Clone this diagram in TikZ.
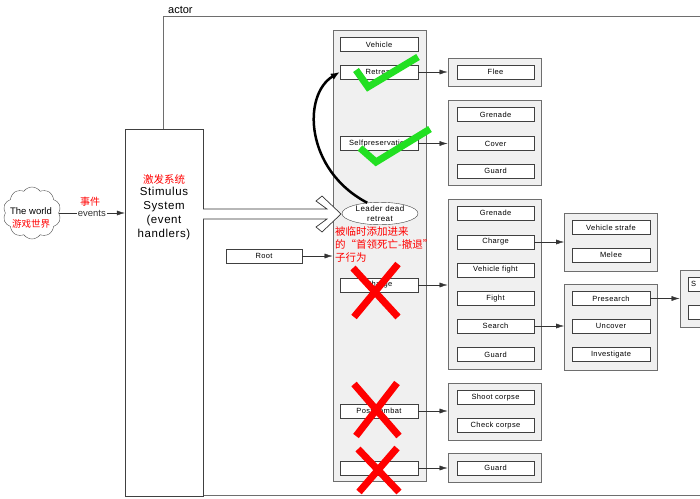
\documentclass[tikz,border=0pt]{standalone}
\usepackage{fontspec}
\setmainfont{Liberation Sans}
\newfontfamily\boxfont[LetterSpace=5]{Liberation Sans}
\newfontfamily\cjk{Noto Sans CJK SC}
\usetikzlibrary{arrows.meta,shapes.geometric,shapes.symbols}
\definecolor{panel}{HTML}{F0F0F0}
\definecolor{edge}{HTML}{6E6E6E}
\definecolor{tick}{HTML}{22E022}

\begin{document}
\begin{tikzpicture}[x=1pt, y=-1pt,
  leaf/.style={draw=black!75, fill=white, minimum width=78pt, minimum height=14pt, inner sep=0pt, font=\boxfont\fontsize{7.5}{9}\selectfont},
  grp/.style={draw=edge, fill=panel, line width=1pt, minimum width=93pt, inner sep=0pt},
  arr/.style={-{Latex[length=8pt,width=5pt]}, black!80},
  cn/.style={font=\cjk\fontsize{10.5}{13}\selectfont, text=red}]
\useasboundingbox (0,0) rectangle (700,498);
\clip (0,0) rectangle (700,498);

% actor frame
\draw[edge] (163,16) rectangle (720,495);
\node[anchor=base west, inner sep=0pt, font=\fontsize{11}{12}\selectfont] (actorlbl) at (168,13) {actor};

% stimulus system
\node[draw=black!75, fill=white, minimum width=78pt, minimum height=367pt] (stim) at (164,312.5) {};
\node[align=center, inner sep=0pt, font=\boxfont\fontsize{11.5}{14}\selectfont] (stimtxt) at (164,207)
  {{\cjk\color{red}\fontsize{10.5}{12}\selectfont 激发系统}\\[-2pt]Stimulus\\System\\(event\\handlers)};

% the world
\node[cloud, cloud puffs=10, cloud puff arc=110, aspect=1.2, draw=black!70, fill=white, minimum width=58pt, minimum height=52pt, inner sep=0pt] (world) at (32,213) {};
\node[align=center, inner sep=0pt, font=\fontsize{9.5}{13}\selectfont] (worldtxt) at (31,218)
  {The world\\{\cjk\color{red}游戏世界}};
\draw[arr] (world.east) -- node[fill=white, inner sep=1pt, font=\fontsize{9.5}{10}\selectfont] (evt) {events} (world.east -| stim.west);
\node[cn, font=\cjk\fontsize{10}{10}\selectfont] (evtcn) at (90,202) {事件};

% behaviour column
\node[grp, minimum height=451pt] (col) at (379.5,255.5) {};
\foreach \n/\t/\y in {veh/Vehicle/44.5, ret/Retreat/72, selfp/Selfpreservation/143.5, chg/Charge/285, post/Post combat/411, idle//468}
  \node[leaf] (\n) at (379,\y) {\t};

% hollow arrow into actor
\draw[black!80, line width=0.7pt, fill=white] (203,209) -- (327,209) -- (316,201) -- (322,196) -- (341,214)
  -- (322,232) -- (316,227) -- (327,219) -- (203,219);

\node[leaf, minimum width=76pt] (root) at (264,256) {Root};
\draw[arr] (root.east) -- (root.east -| col.west);

% second level
\foreach \n/\y/\h in {gflee/72/28, gself/142.5/85, gchg/284/170, gpost/411.5/57, gguard/467.5/29}
  \node[grp, minimum height=\h pt] (\n) at (494.5,\y) {};
\foreach \n/\t/\y in {flee/Flee/72, sgren/Grenade/114.5, scover/Cover/143.5, sguard/Guard/171,
    cgren/Grenade/213, ccharge/Charge/242, cveh/Vehicle fight/270, cfight/Fight/298.5, csearch/Search/326, cguard/Guard/354.5,
    pshoot/Shoot corpse/397.5, pcheck/Check corpse/425.5, iguard/Guard/468}
  \node[leaf, minimum width=77pt] (\n) at (495.5,\y) {\t};
\foreach \a/\b in {ret/gflee, selfp/gself, chg/gchg, post/gpost, idle/gguard}
  \draw[arr] (\a.east) -- (\a.east -| \b.west);

% third level
\node[grp, minimum height=58pt] (gmelee) at (611,242) {};
\node[grp, minimum height=86pt] (gsearch) at (611,327) {};
\foreach \n/\t/\y in {vstrafe/Vehicle strafe/227.5, melee/Melee/255, pres/Presearch/298.5, uncov/Uncover/326, invest/Investigate/354.5}
  \node[leaf] (\n) at (611,\y) {\t};
\draw[arr] (ccharge.east) -- (ccharge.east -| gmelee.west);
\draw[arr] (csearch.east) -- (csearch.east -| gsearch.west);

% fourth level (cut off)
\node[grp, minimum height=57pt] (gpre) at (726.5,298.5) {};
\node[leaf] (pre1) at (727,284) {};
\node[leaf] (pre2) at (727,312) {};
\node[anchor=west, inner sep=0pt, font=\boxfont\fontsize{7.5}{9}\selectfont] (pre1txt) at (691,284) {S};
\draw[arr] (pres.east) -- (pres.east -| gpre.west);

% added sub-behaviour
\node[ellipse, draw=black!75, fill=white, minimum width=76pt, minimum height=21pt, inner sep=0pt, align=center,
  font=\boxfont\fontsize{8}{10}\selectfont] (lead) at (380,213.5) {Leader dead\\retreat};
\draw[line width=2.5pt, -{Latex[length=9pt,width=7pt]}] (lead.140) .. controls (305,170) and (302,95) .. (ret.west);
\node[cn, anchor=north west, align=left, inner sep=0pt] (note) at (335,226) {被临时添加进来\\的“首领死亡-撤退”\\子行为};

% marks
\draw[tick, line width=7pt] (356,70) -- (368,87) -- (418,57);
\draw[tick, line width=7pt] (360,148) -- (376,162) -- (430,129);
\draw[red, line width=7pt] (353,268) -- (398,317) (398,264) -- (354,317);
\draw[red, line width=7pt] (354,384) -- (399,436) (397,383) -- (356,436);
\draw[red, line width=7pt] (358,449) -- (399,492) (397,448) -- (359,492);
\end{tikzpicture}
\end{document}
